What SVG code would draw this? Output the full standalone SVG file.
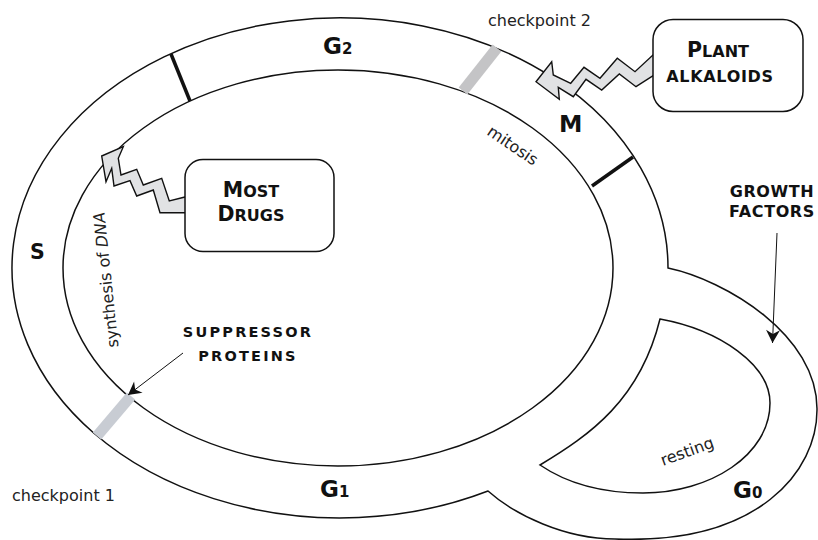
<svg xmlns="http://www.w3.org/2000/svg" width="818" height="540" viewBox="0 0 818 540">
<defs>
<style>
.line{fill:none;stroke:#111;stroke-width:1.5}
.bar{stroke:#111;stroke-width:3.5;fill:none}
.gbar{stroke-width:11;fill:none}
.box{fill:#fff;stroke:#111;stroke-width:1.5}
.bolt{fill:#e1e2e4;stroke:#111;stroke-width:1.4;stroke-linejoin:miter}
.arr{fill:none;stroke:#111;stroke-width:1}
.reg{font-family:"DejaVu Sans","Liberation Sans",sans-serif;font-size:16px;fill:#222}
.ph{font-family:"DejaVu Sans","Liberation Sans",sans-serif;font-weight:bold;fill:#111}
.sc{font-family:"DejaVu Sans","Liberation Sans",sans-serif;font-weight:bold;fill:#111;text-anchor:middle}
</style>
<marker id="ah" markerWidth="16" markerHeight="16" viewBox="-14 -8 16 16" refX="0" refY="0" orient="auto" markerUnits="userSpaceOnUse">
<path d="M0,0 L-13,-7 L-9,0 L-13,7 Z" fill="#111"/>
</marker>
</defs>
<rect width="818" height="540" fill="#fff"/>

<g id="cell-cycle">
<path class="line" d="M488,491 A328,250 0 1 1 668,268 C725,280 818,335 817,410 C817,470 760,545 615,539 C565,539 515,515 488,491 Z"/>
<ellipse class="line" cx="338" cy="268" rx="275" ry="198"/>
<path class="line" d="M660,319 C720,330 770,365 770,403 C770,455 710,493 643,493 C600,493 565,482 540,465 C590,435 640,400 660,319 Z"/>
<line class="bar" x1="171" y1="54" x2="190" y2="101"/>
<line class="bar" x1="592" y1="186" x2="633" y2="157"/>
<line class="gbar" stroke="#c4c4c6" x1="463" y1="91" x2="497" y2="48"/>
<line class="gbar" stroke="#c8ccd3" x1="97" y1="436" x2="131" y2="396"/>
</g>

<g id="labels">
<text class="ph" x="323" y="54" font-size="23">G<tspan font-size="15">2</tspan></text>
<text class="ph" x="30" y="259" font-size="20.5">S</text>
<text class="ph" x="559" y="132" font-size="23.5">M</text>
<text class="ph" x="320" y="497" font-size="23">G<tspan font-size="15">1</tspan></text>
<text class="ph" x="733" y="498" font-size="23">G<tspan font-size="15">0</tspan></text>
<text class="reg" x="488" y="26" font-size="16.8">checkpoint 2</text>
<text class="reg" x="12" y="501" font-size="16.8">checkpoint 1</text>
<text class="reg" transform="translate(486,134) rotate(34)">mitosis</text>
<text class="reg" transform="translate(663,466) rotate(-20)">resting</text>
<text class="reg" transform="translate(118.5,347) rotate(-96)">synthesis of <tspan font-style="italic">DNA</tspan></text>
</g>

<g id="connectors">
<polygon class="bolt" points="101.7,156 123.3,146.7 118.3,158.3 121,175 136.7,169.3 143.3,185 161.7,178.3 169.3,201 186,196.7 186,212.7 160,212.7 153.3,190 136.7,196 130,180.7 114,186 111.7,168.3 106,181.7"/>
<polygon class="bolt" points="536,81.7 551.7,61.7 553.3,75 570.7,83.3 584,67.3 600,78.3 617.3,58.3 635,71.7 654,54 654,75 636,86.7 619.3,74 601.7,90 586,79.3 573.3,96.7 558.3,87.3 559.3,99.3"/>
<line class="arr" x1="183" y1="353" x2="128" y2="395" marker-end="url(#ah)"/>
<line class="arr" x1="777" y1="233" x2="772.5" y2="343" marker-end="url(#ah)"/>
</g>

<g id="most-drugs">
<rect class="box" x="185" y="159.5" width="149" height="92" rx="18"/>
<text class="sc" x="251" y="197"><tspan font-size="20.5">M</tspan><tspan font-size="16">OST</tspan></text>
<text class="sc" x="251" y="221"><tspan font-size="20.5">D</tspan><tspan font-size="16">RUGS</tspan></text>
</g>

<g id="plant-alkaloids">
<rect class="box" x="653" y="19.5" width="150" height="92" rx="20"/>
<text class="sc" x="718" y="57"><tspan font-size="20.5">P</tspan><tspan font-size="16">LANT</tspan></text>
<text class="sc" x="720" y="82" font-size="16" letter-spacing="0.7">ALKALOIDS</text>
</g>

<g id="suppressor-proteins">
<text class="sc" x="248" y="337" font-size="14.5" letter-spacing="2.2">SUPPRESSOR</text>
<text class="sc" x="248" y="361" font-size="14.5" letter-spacing="2.2">PROTEINS</text>
</g>

<g id="growth-factors">
<text class="sc" x="772" y="197" font-size="16" letter-spacing="0.6">GROWTH</text>
<text class="sc" x="772" y="217" font-size="16" letter-spacing="0.6">FACTORS</text>
</g>
</svg>
